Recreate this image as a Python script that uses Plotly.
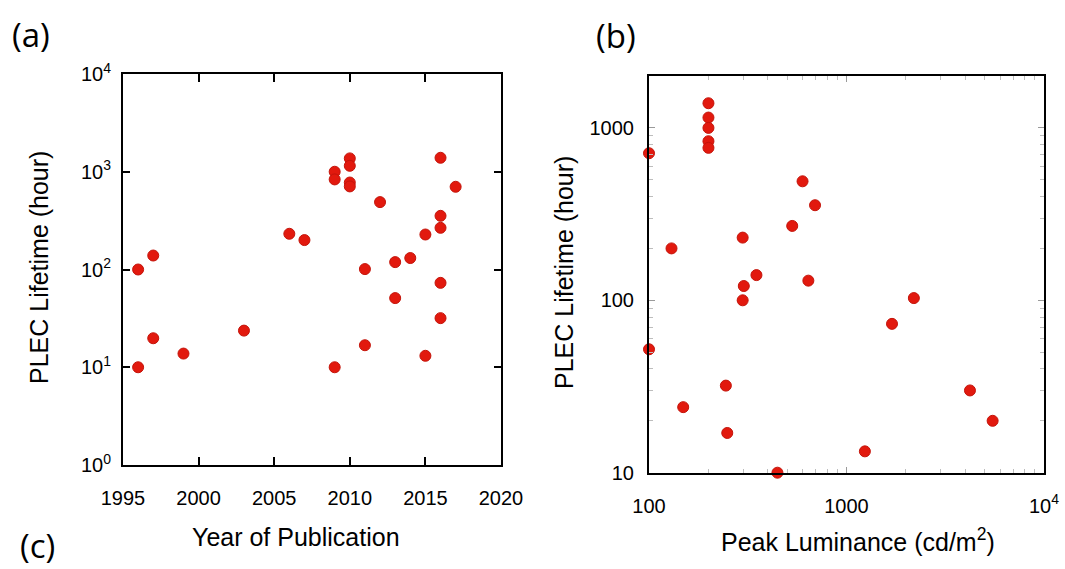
import plotly.graph_objects as go

# ---- Panel (a): lifetime vs year of publication ----
year_a = [1996, 1996, 1997, 1997, 1999, 2003, 2006, 2007, 2009, 2009, 2009,
          2010, 2010, 2010, 2010, 2011, 2011, 2012, 2013, 2013, 2014, 2015, 2015,
          2016, 2016, 2016, 2016, 2016, 2017]
life_a = [100, 10, 139, 19.8, 13.8, 23.7, 232, 200, 1000, 835, 10,
          1370, 1150, 776, 708, 101, 16.8, 489, 119, 51, 131, 228, 13.1,
          1390, 354, 267, 73, 31.8, 702]

# ---- Panel (b): lifetime vs peak luminance ----
lum_b = [200, 200, 200, 200, 200, 100, 599, 693, 531, 298, 130, 350, 302, 641,
         2193, 298, 1700, 100, 245, 149, 249, 447, 1239, 4218, 5494]
life_b = [1390, 1148, 1000, 837, 766, 713, 490, 356, 270, 231, 200, 140, 121, 130,
          103, 100, 73, 52, 32, 24, 17, 10, 13.3, 30, 20]

a_ytickvals = [1, 10, 100, 1000, 10000]
a_yticktext = ["10<sup>0</sup>", "10<sup>1</sup>", "10<sup>2</sup>", "10<sup>3</sup>", "10<sup>4</sup>"]
a_xtickvals = [1995, 2000, 2005, 2010, 2015, 2020]
b_xtickvals = [100, 1000, 10000]
b_xticktext = ["100", "1000", "10<sup>4</sup>"]
b_ytickvals = [10, 100, 1000]
b_yticktext = ["10", "100", "1000"]
b_xminor = [200, 300, 400, 500, 600, 700, 800, 900, 2000, 3000, 4000, 5000, 6000, 7000, 8000, 9000]
b_yminor = [20, 30, 40, 50, 60, 70, 80, 90, 200, 300, 400, 500, 600, 700, 800, 900, 2000]

W, H = 1065, 569
FONT = "Liberation Sans, Arial, sans-serif"
RED = "#e2190e"
EDGE = "#c4140a"

fig = go.Figure()
fig.add_trace(go.Scatter(x=year_a, y=life_a, mode="markers", xaxis="x", yaxis="y",
                         marker=dict(size=11, color=RED, line=dict(color=EDGE, width=1)),
                         showlegend=False))
fig.add_trace(go.Scatter(x=lum_b, y=life_b, mode="markers", xaxis="x2", yaxis="y2",
                         marker=dict(size=11, color=RED, line=dict(color=EDGE, width=1)),
                         showlegend=False, cliponaxis=False))

def px_x(p):
    return p / W

def px_y(p):
    return 1 - p / H

common = dict(showline=True, linecolor="black", linewidth=2, mirror="allticks",
              showgrid=False, zeroline=False, automargin=False,
              tickfont=dict(family=FONT, size=20, color="black"))

fig.update_layout(
    width=W, height=H,
    margin=dict(l=0, r=0, t=0, b=0),
    paper_bgcolor="white", plot_bgcolor="white",
    xaxis=dict(domain=[px_x(123), px_x(501)], range=[1995, 2020], tickmode="array",
               tickvals=a_xtickvals, ticks="inside", ticklen=8, tickwidth=2, tickcolor="black",
               anchor="y", ticklabelstandoff=14, **common),
    yaxis=dict(domain=[px_y(465), px_y(74)], type="log", range=[0, 4], tickmode="array",
               tickvals=a_ytickvals, ticktext=a_yticktext, ticks="inside", ticklen=7,
               tickwidth=2, tickcolor="black", anchor="x", ticklabelstandoff=6, **common),
    xaxis2=dict(domain=[px_x(649), px_x(1044)], type="log", range=[2, 4], tickmode="array",
                tickvals=b_xtickvals, ticktext=b_xticktext, ticks="inside", ticklen=6,
                tickwidth=1, tickcolor="#9a9a9a", anchor="y2", ticklabelstandoff=14,
                minor=dict(tickmode="array", tickvals=b_xminor, ticks="inside", ticklen=4,
                           tickwidth=1, tickcolor="#bdbdbd", showgrid=False),
                **common),
    yaxis2=dict(domain=[px_y(472.7), px_y(76)], type="log", range=[1, 3.301], tickmode="array",
                tickvals=b_ytickvals, ticktext=b_yticktext, ticks="inside", ticklen=6,
                tickwidth=1, tickcolor="#9a9a9a", anchor="x2", ticklabelstandoff=9,
                minor=dict(tickmode="array", tickvals=b_yminor, ticks="inside", ticklen=4,
                           tickwidth=1, tickcolor="#bdbdbd", showgrid=False),
                **common),
)

ann_font = dict(family=FONT, size=25, color="black")
lab_font = dict(family="Open Sans, Liberation Sans, sans-serif", size=33, color="black")
annotations = [
    dict(text="Year of Publication", x=px_x(296), y=px_y(537), font=ann_font),
    dict(text="PLEC Lifetime (hour)", x=px_x(39), y=px_y(268), textangle=-90, font=ann_font),
    dict(text="Peak Luminance (cd/m<sup>2</sup>)", x=px_x(858), y=px_y(540), font=ann_font),
    dict(text="PLEC Lifetime (hour)", x=px_x(564), y=px_y(273), textangle=-90, font=ann_font),
    dict(text="(a)", x=px_x(31), y=px_y(34), font=lab_font),
    dict(text="(b)", x=px_x(616), y=px_y(35), font=lab_font),
    dict(text="(c)", x=px_x(37), y=px_y(545), font=lab_font),
]
for a in annotations:
    a.update(xref="paper", yref="paper", showarrow=False, xanchor="center", yanchor="middle")
fig.update_layout(annotations=annotations)

fig.write_html("out.html", config={"displayModeBar": False},
               post_script="document.body.style.margin='0';document.body.style.overflow='hidden';")
